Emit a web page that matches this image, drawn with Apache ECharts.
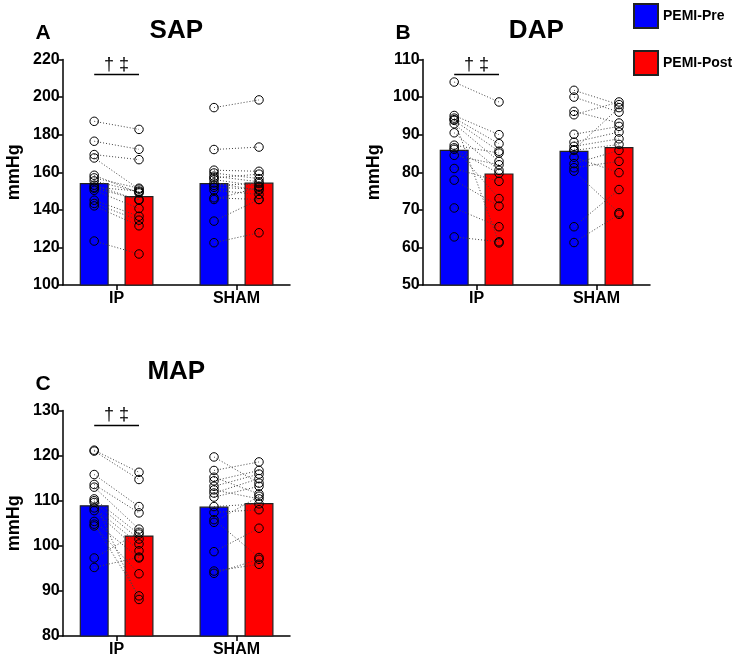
<!DOCTYPE html>
<html><head><meta charset="utf-8">
<script src="https://cdn.jsdelivr.net/npm/echarts@6/dist/echarts.min.js"></script>
<style>html,body{margin:0;padding:0;background:#fff}#c{width:738px;height:660px}</style>
</head><body><div id="c"></div>
<script>
// ---------- DATA ----------
const categories = ['IP', 'SHAM'];
const groupNames = ['PEMI-Pre', 'PEMI-Post'];

// SAP (mmHg)
const sapTicks = [100, 120, 140, 160, 180, 200, 220];
const sapBarPre = [154.3, 154.3];
const sapBarPost = [147.3, 154.5];
const sapPreIP = [187.1, 176.5, 169.4, 167.6, 158.4, 157.0, 155.4, 153.1, 150.4, 151.5, 145.1, 143.4, 142.1, 123.4, 152.0];
const sapPostIP = [182.8, 172.2, 166.7, 151.0, 149.0, 151.5, 149.5, 145.1, 140.7, 145.5, 136.6, 134.5, 131.5, 116.5, 150.0];
const sapPreSHAM = [194.4, 172.1, 161.1, 159.6, 157.9, 156.1, 154.3, 153.0, 150.4, 146.4, 145.5, 134.0, 122.5, 157.0, 152.0];
const sapPostSHAM = [198.5, 173.4, 160.5, 156.6, 154.9, 152.6, 150.4, 154.0, 148.2, 145.5, 152.0, 145.5, 127.8, 159.0, 151.0];
const sapSig = 212;

// DAP (mmHg)
const dapTicks = [50, 60, 70, 80, 90, 100, 110];
const dapBarPre = [86.0, 85.7];
const dapBarPost = [79.7, 86.7];
const dapPreIP = [104.0, 95.1, 94.4, 93.8, 92.9, 90.5, 87.2, 86.1, 84.5, 81.0, 77.9, 70.5, 62.8, 86.5, 94.0];
const dapPostIP = [98.7, 90.0, 87.6, 85.6, 82.9, 80.5, 85.1, 79.7, 82.0, 77.6, 71.0, 65.5, 61.5, 73.0, 61.2];
const dapPreSHAM = [101.8, 100.0, 96.2, 95.3, 90.1, 88.0, 86.9, 85.8, 82.3, 81.2, 80.3, 65.5, 61.3, 84.0, 86.0];
const dapPostSHAM = [98.0, 96.0, 93.1, 98.7, 92.2, 90.7, 88.9, 87.4, 85.8, 82.9, 69.2, 75.4, 68.8, 79.9, 97.2];
const dapSig = 106;

// MAP (mmHg)
const mapTicks = [80, 90, 100, 110, 120, 130];
const mapBarPre = [109.0, 108.7];
const mapBarPost = [102.3, 109.5];
const mapPreIP = [121.2, 121.0, 115.8, 113.6, 113.0, 110.4, 109.6, 108.4, 107.8, 105.4, 104.4, 97.3, 95.2, 104.8, 110.0];
const mapPostIP = [116.3, 114.7, 108.7, 107.3, 103.7, 102.6, 101.5, 100.4, 98.9, 97.3, 93.8, 103.0, 97.5, 88.9, 88.1];
const mapPreSHAM = [119.7, 116.7, 115.2, 114.4, 113.2, 112.4, 111.7, 110.8, 108.7, 107.4, 105.8, 105.2, 98.7, 94.4, 93.9];
const mapPostSHAM = [113.9, 118.6, 111.5, 116.7, 115.9, 110.4, 114.9, 113.2, 109.3, 108.0, 97.4, 111.0, 103.9, 95.9, 97.0];
const mapSig = 126.7;

// ---------- LAYOUT ----------
const FONT = 'Liberation Sans, Arial, sans-serif';
const PW = 227.3, PH = 225.5;
// bar centre positions along the (hidden) x value axis, in px from the y axis
const XPOS = { preIP: 31.5, postIP: 76.3, preSH: 151.3, postSH: 196.3 };
const LBL_DX = -6.05, LBL_W = 239.8;

const panels = [
  { letter: 'A', title: 'SAP', ticks: sapTicks, barPre: sapBarPre, barPost: sapBarPost,
    preIP: sapPreIP, postIP: sapPostIP, preSH: sapPreSHAM, postSH: sapPostSHAM, sig: sapSig,
    left: 62.7, top: 59.5, letterPos: [43, 33], titlePos: [176.3, 31] },
  { letter: 'B', title: 'DAP', ticks: dapTicks, barPre: dapBarPre, barPost: dapBarPost,
    preIP: dapPreIP, postIP: dapPostIP, preSH: dapPreSHAM, postSH: dapPostSHAM, sig: dapSig,
    left: 422.7, top: 59.5, letterPos: [403, 33], titlePos: [536.3, 31] },
  { letter: 'C', title: 'MAP', ticks: mapTicks, barPre: mapBarPre, barPost: mapBarPost,
    preIP: mapPreIP, postIP: mapPostIP, preSH: mapPreSHAM, postSH: mapPostSHAM, sig: mapSig,
    left: 62.7, top: 410.5, letterPos: [43, 384], titlePos: [176.3, 372] }
];

const grid = [], xAxis = [], yAxis = [], series = [], graphic = [];

panels.forEach((p, i) => {
  const gi = i * 2;
  const tmin = p.ticks[0], tmax = p.ticks[p.ticks.length - 1];
  const step = p.ticks[1] - p.ticks[0];
  grid.push({ left: p.left, top: p.top, width: PW, height: PH, containLabel: false });
  grid.push({ left: p.left + LBL_DX, top: p.top, width: LBL_W, height: PH, containLabel: false });

  xAxis.push({
    gridIndex: gi, type: 'value', min: 0, max: PW,
    axisLine: { show: true, lineStyle: { color: '#000', width: 1.5 } },
    axisTick: { show: false }, axisLabel: { show: false }, splitLine: { show: false }
  });
  xAxis.push({
    gridIndex: gi + 1, type: 'category', data: categories, boundaryGap: true,
    axisLine: { show: false },
    axisTick: { show: true, alignWithLabel: true, length: 5, lineStyle: { color: '#000', width: 1.5 } },
    axisLabel: { show: true, color: '#000', fontFamily: FONT, fontWeight: 'bold', fontSize: 16, margin: 6 },
    splitLine: { show: false }
  });
  yAxis.push({
    gridIndex: gi, type: 'value', min: tmin, max: tmax, interval: step,
    name: 'mmHg', nameLocation: 'middle', nameGap: 40, nameRotate: 90,
    nameTextStyle: { color: '#000', fontFamily: FONT, fontWeight: 'bold', fontSize: 18 },
    axisLine: { show: true, lineStyle: { color: '#000', width: 1.5 } },
    axisTick: { show: true, inside: false, length: 5, lineStyle: { color: '#000', width: 1.5 } },
    axisLabel: { color: '#000', fontFamily: FONT, fontWeight: 'bold', fontSize: 16, margin: 3 },
    splitLine: { show: false }
  });
  yAxis.push({ gridIndex: gi + 1, type: 'value', show: false, min: 0, max: 1 });

  const barBase = {
    type: 'bar', xAxisIndex: gi, yAxisIndex: gi, barWidth: 29, barGap: '-100%',
    clip: true, z: 2, silent: true
  };
  series.push(Object.assign({}, barBase, {
    name: groupNames[0],
    itemStyle: { color: '#0000FF', borderColor: '#222', borderWidth: 1.2 },
    data: [[XPOS.preIP, p.barPre[0]], [XPOS.preSH, p.barPre[1]]],
    markLine: {
      silent: true, symbol: ['none', 'none'], animation: false,
      lineStyle: { color: '#000', width: 1.3, type: 'solid' },
      label: { show: true, position: 'insideMiddleTop', formatter: '\u2020 \u2021', color: '#000',
               fontFamily: FONT, fontSize: 18, distance: 1 },
      emphasis: { disabled: true },
      data: [[{ coord: [XPOS.preIP, p.sig] }, { coord: [XPOS.postIP, p.sig] }]]
    }
  }));
  series.push(Object.assign({}, barBase, {
    name: groupNames[1],
    itemStyle: { color: '#FF0000', borderColor: '#222', borderWidth: 1.2 },
    data: [[XPOS.postIP, p.barPost[0]], [XPOS.postSH, p.barPost[1]]]
  }));

  const addPairs = (pre, post, x1, x2) => {
    pre.forEach((v, k) => {
      series.push({
        type: 'line', xAxisIndex: gi, yAxisIndex: gi, z: 5, silent: true,
        symbol: 'circle', symbolSize: 8.5, showSymbol: true,
        itemStyle: { color: 'rgba(0,0,0,0)', borderColor: '#000', borderWidth: 1 },
        lineStyle: { color: '#444', width: 1, type: [1, 2] },
        emphasis: { disabled: true },
        data: [[x1, v], [x2, post[k]]]
      });
    });
  };
  addPairs(p.preIP, p.postIP, XPOS.preIP, XPOS.postIP);
  addPairs(p.preSH, p.postSH, XPOS.preSH, XPOS.postSH);

  graphic.push({
    type: 'text', x: p.letterPos[0], y: p.letterPos[1],
    style: { text: p.letter, font: 'bold 21px ' + FONT, fill: '#000',
             align: 'center', verticalAlign: 'middle', textAlign: 'center', textVerticalAlign: 'middle' }
  });
  graphic.push({
    type: 'text', x: p.titlePos[0], y: p.titlePos[1],
    style: { text: p.title, font: 'bold 26px ' + FONT, fill: '#000',
             align: 'center', verticalAlign: 'middle', textAlign: 'center', textVerticalAlign: 'middle' }
  });
});

const chart = echarts.init(document.getElementById('c'), null, { renderer: 'canvas' });
chart.setOption({
  animation: false,
  backgroundColor: '#fff',
  grid, xAxis, yAxis, series, graphic,
  legend: {
    data: groupNames, orient: 'vertical', left: 633, top: 3, padding: 0,
    itemWidth: 24, itemHeight: 24, itemGap: 21, icon: 'rect',
    selectedMode: false,
    textStyle: { color: '#000', fontFamily: FONT, fontWeight: 'bold', fontSize: 14 }
  }
});
</script>
</body></html>
